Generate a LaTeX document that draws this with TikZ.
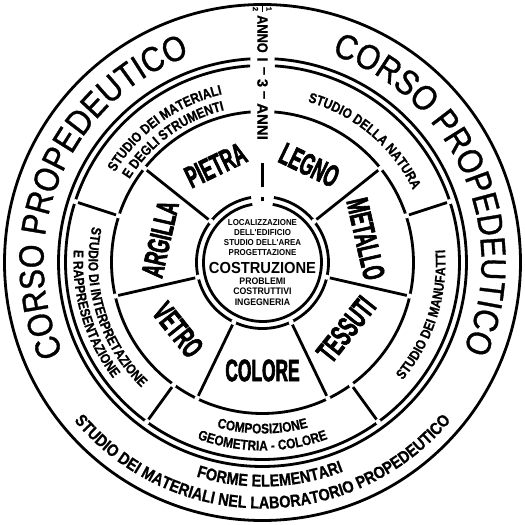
\documentclass[tikz,border=0pt]{standalone}
\usepackage{fontspec}
\setmainfont{Liberation Sans}
\newfontfamily\corso{Liberation Sans}[FakeStretch=0.87,FakeBold=1]
\newfontfamily\labB{Liberation Sans Bold}[FakeStretch=0.85,FakeBold=0.7]
\newfontfamily\heavyB{Liberation Sans Bold}[FakeStretch=0.56,FakeBold=2]
\newfontfamily\ctrB{Liberation Sans Bold}[FakeStretch=0.92]
\newfontfamily\axB{Liberation Sans Bold}[FakeStretch=0.85,FakeBold=0.7]
\newfontfamily\axC{Liberation Sans Bold}[FakeBold=0.7]
\usetikzlibrary{decorations.text}
\newcommand\arcT[5]{\path[decorate,decoration={text along path,text align=center,text={|#4|#5}}] (#2:#1pt) arc[start angle=#2,end angle=#3,radius=#1pt];}
\tikzset{
  ring/.style={line width=2.8pt},
  divider/.style={line width=2.8pt},
  midword/.style={font=\heavyB\fontsize{31}{33}\selectfont, inner sep=0pt},
  ctrsmall/.style={font=\ctrB\fontsize{8.6}{9}\selectfont, inner sep=0pt},
  ctrlow/.style={font=\ctrB\fontsize{9.5}{10}\selectfont, inner sep=0pt},
  axis/.style={font=\axB\fontsize{15}{15}\selectfont, inner sep=0pt, rotate=-90},
  axisw/.style={font=\axC\fontsize{15}{15}\selectfont, inner sep=0pt, rotate=-90},
  tiny/.style={font=\axC\fontsize{7.5}{7.5}\selectfont, inner sep=0pt, rotate=-90}
}
\begin{document}
\begin{tikzpicture}[x=1pt,y=1pt]
\useasboundingbox (-262.5,-262.5) rectangle (262.5,262.5);
% ---------- circles ----------
\draw[ring] (0,0) circle[radius=258pt];
\draw[ring] (93.4:204pt) arc[start angle=93.4,end angle=446.6,radius=204pt];
\draw[ring] (93.6:197pt) arc[start angle=93.6,end angle=446.4,radius=197pt];
\draw[ring] (94.5:151pt) arc[start angle=94.5,end angle=445.5,radius=151pt];
\draw[ring] (100:66pt) arc[start angle=100,end angle=440,radius=66pt];
\draw[ring] (100:59pt) arc[start angle=100,end angle=440,radius=59pt];
% ---------- gaps and dividers, middle ring ----------
\foreach \a in {141.43,192.86,244.29,295.71,347.14,398.57}{
  \fill[white] (\a:66pt) circle[radius=2.6pt];
  \fill[white] (\a:151pt) circle[radius=2.6pt];
}
\draw[divider] (141.43:69pt) coordinate (m1a) -- (141.43:148pt) coordinate (m1b);
\draw[divider] (192.86:69pt) coordinate (m2a) -- (192.86:148pt) coordinate (m2b);
\draw[divider] (244.29:69pt) coordinate (m3a) -- (244.29:148pt) coordinate (m3b);
\draw[divider] (295.71:69pt) coordinate (m4a) -- (295.71:148pt) coordinate (m4b);
\draw[divider] (347.14:69pt) coordinate (m5a) -- (347.14:148pt) coordinate (m5b);
\draw[divider] (38.57:69pt) coordinate (m6a) -- (38.57:148pt) coordinate (m6b);
\draw[divider] (90:75pt) coordinate (m0a) -- (90:99pt) coordinate (m0b);
\draw[divider] (90:61pt) coordinate (m0c) -- (90:65pt) coordinate (m0d);
% ---------- gaps and dividers, outer ring ----------
\foreach \a in {18,162,234,306}{
  \fill[white] (\a:151pt) circle[radius=2.6pt];
  \fill[white] (\a:197pt) circle[radius=2.6pt];
}
\draw[divider] (18:154pt) coordinate (o1a) -- (18:194pt) coordinate (o1b);
\draw[divider] (162:154pt) coordinate (o2a) -- (162:194pt) coordinate (o2b);
\draw[divider] (234:154pt) coordinate (o3a) -- (234:194pt) coordinate (o3b);
\draw[divider] (306:154pt) coordinate (o4a) -- (306:194pt) coordinate (o4b);
% ---------- outermost ring texts ----------
\arcT{219}{235}{79}{\corso\fontsize{35}{40}\selectfont}{CORSO PROPEDEUTICO}
\arcT{219}{102}{-54}{\corso\fontsize{35}{40}\selectfont}{CORSO PROPEDEUTICO}
\arcT{246}{180}{360}{\labB\fontsize{17}{18}\selectfont}{STUDIO DEI MATERIALI NEL LABORATORIO PROPEDEUTICO}
\arcT{224}{202}{342}{\labB\fontsize{17}{18}\selectfont}{FORME ELEMENTARI}
% ---------- outer sector texts ----------
\arcT{173}{176}{76}{\labB\fontsize{14}{15}\selectfont}{STUDIO DEI MATERIALI}
\arcT{157}{176}{76}{\labB\fontsize{14}{15}\selectfont}{E DEGLI STRUMENTI}
\arcT{167}{100}{0}{\labB\fontsize{14}{15}\selectfont}{STUDIO DELLA NATURA}
\arcT{183}{-68}{32}{\labB\fontsize{14}{15}\selectfont}{STUDIO DEI MANUFATTI}
\arcT{171}{220}{320}{\labB\fontsize{14}{15}\selectfont}{COMPOSIZIONE}
\arcT{188}{220}{320}{\labB\fontsize{14}{15}\selectfont}{GEOMETRIA - COLORE}
\arcT{174}{147}{247}{\labB\fontsize{14}{15}\selectfont}{STUDIO DI INTERPRETAZIONE}
\arcT{189}{147}{247}{\labB\fontsize{14}{15}\selectfont}{E RAPPRESENTAZIONE}
% ---------- middle ring words ----------
\node[midword, rotate=25.71] (pietra) at (115.71:108pt) {PIETRA};
\node[midword, rotate=-25.71] (legno) at (64.29:108pt) {LEGNO};
\node[midword, rotate=-77.14] (metallo) at (12.86:106pt) {METALLO};
\node[midword, rotate=51.43] (tessuti) at (-38.57:107pt) {TESSUTI};
\node[midword] (colore) at (270:108pt) {COLORE};
\node[midword, rotate=-51.43] (vetro) at (218.57:108pt) {VETRO};
\node[midword, rotate=77.14] (argilla) at (167.14:105pt) {ARGILLA};
% ---------- centre ----------
\node[ctrsmall] (c1) at (0,39.5) {LOCALIZZAZIONE};
\node[ctrsmall] (c2) at (0,29.5) {DELL'EDIFICIO};
\node[ctrsmall] (c3) at (0,19.5) {STUDIO DELL'AREA};
\node[ctrsmall] (c4) at (0,9.5) {PROGETTAZIONE};
\node[font=\ctrB\fontsize{16}{17}\selectfont, inner sep=0pt] (c5) at (0,-5.5) {COSTRUZIONE};
\node[ctrlow] (c6) at (0,-18.5) {PROBLEMI};
\node[ctrlow] (c7) at (0,-28.5) {COSTRUTTIVI};
\node[ctrlow] (c8) at (0,-39.5) {INGEGNERIA};
% ---------- vertical axis ----------
\node[tiny] (h1) at (6.5,253.5) {1};
\node[tiny] (h2) at (-7,253.5) {2};
\draw[line width=1pt] (0,257) coordinate (hb1) -- (0,250) coordinate (hb2);
\node[axis, anchor=west] (ax1) at (0,247.5) {ANNO};
\node[axisw] (axI) at (0,203) {I};
\node[axisw] (axd1) at (0,191.5) {–};
\node[axisw] (ax3) at (0,179.5) {3};
\node[axisw] (axd2) at (0,167.5) {–};
\node[axisw, anchor=west] (ax2) at (0,159.5) {ANNI};
\end{tikzpicture}
\end{document}
